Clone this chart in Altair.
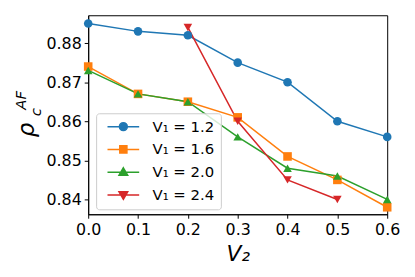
import altair as alt
import pandas as pd

v2 = [0.0, 0.1, 0.2, 0.3, 0.4, 0.5, 0.6]
s12 = [0.885, 0.883, 0.882, 0.875, 0.870, 0.860, 0.856]
s16 = [0.874, 0.867, 0.865, 0.861, 0.851, 0.845, 0.838]
s20 = [0.873, 0.867, 0.865, 0.856, 0.848, 0.846, 0.840]
v2_24 = [0.2, 0.3, 0.4, 0.5]
s24 = [0.884, 0.860, 0.845, 0.840]
labels = ["V₁ = 1.2", "V₁ = 1.6", "V₁ = 2.0", "V₁ = 2.4"]
colors = ["#1f77b4", "#ff7f0e", "#2ca02c", "#d62728"]
shapes = ["circle", "square", "triangle-up", "triangle-down"]

rows = []
for lab, xs_, ys_ in zip(labels, [v2, v2, v2, v2_24], [s12, s16, s20, s24]):
    for x, y in zip(xs_, ys_):
        rows.append({"V2": x, "rho": y, "series": lab})
df = pd.DataFrame(rows)

FONT = "DejaVu Sans"
line_path = "M-4,0L4,0"
legend_paths = [
    line_path + "M-1,0A1,1,0,1,1,1,0A1,1,0,1,1,-1,0Z",
    line_path + "M-0.9,-0.9L0.9,-0.9L0.9,0.9L-0.9,0.9Z",
    line_path + "M0,-1.1L1.1,0.8L-1.1,0.8Z",
    line_path + "M0,1.1L1.1,-0.8L-1.1,-0.8Z",
]

xs = alt.X("V2:Q", scale=alt.Scale(domain=[0, 0.6], nice=False),
           axis=alt.Axis(values=v2, format=".1f", title="V₂", grid=False, labelFlush=False,
                         titleFontStyle="italic", titleFontWeight="normal",
                         titleFontSize=22, titlePadding=7))
ys = alt.Y("rho:Q", scale=alt.Scale(domain=[0.83621, 0.88712], nice=False, zero=False),
           axis=alt.Axis(values=[0.84, 0.85, 0.86, 0.87, 0.88], format=".2f",
                         title=None, grid=False, labelFlush=False))
cs = alt.Scale(domain=labels, range=colors)

lines = alt.Chart(df).mark_line(strokeWidth=1.5).encode(
    x=xs, y=ys,
    color=alt.Color("series:N", scale=cs, legend=None),
)
points = alt.Chart(df).mark_point(filled=True, size=75, opacity=1).encode(
    x=xs, y=ys,
    color=alt.Color("series:N", scale=cs, legend=None),
    shape=alt.Shape("series:N", scale=alt.Scale(domain=labels, range=shapes), legend=None),
)

leg = alt.Legend(
    title=None, orient="none", legendX=8, legendY=99,
    symbolSize=64, symbolStrokeWidth=1.5, symbolOffset=14,
    labelOffset=22, labelFontSize=15, labelFont=FONT,
    rowPadding=7, padding=6,
    fillColor="rgba(255,255,255,0.8)", strokeColor="#cccccc", cornerRadius=3,
)
legend_layer = alt.Chart(df).transform_calculate(ls="datum.series").transform_filter(
    "false").mark_point(size=64, opacity=1).encode(
    x=xs, y=ys,
    fill=alt.Fill("ls:N", scale=alt.Scale(domain=labels, range=colors), legend=leg),
    stroke=alt.Stroke("ls:N", scale=alt.Scale(domain=labels, range=colors), legend=leg),
    shape=alt.Shape("ls:N", scale=alt.Scale(domain=labels, range=legend_paths), legend=leg),
)

t1 = alt.Chart(pd.DataFrame({"t": ["ρ"]})).mark_text(
    angle=270, fontSize=23, fontStyle="italic", font=FONT, align="center", baseline="middle"
).encode(text="t:N", x=alt.value(-62), y=alt.value(116))
t2 = alt.Chart(pd.DataFrame({"t": ["c"]})).mark_text(
    angle=270, fontSize=15, fontStyle="italic", font=FONT, align="center", baseline="middle"
).encode(text="t:N", x=alt.value(-53), y=alt.value(98))
t3 = alt.Chart(pd.DataFrame({"t": ["AF"]})).mark_text(
    angle=270, fontSize=15, fontStyle="italic", font=FONT, align="center", baseline="middle"
).encode(text="t:N", x=alt.value(-68), y=alt.value(86))

chart = alt.layer(lines, points, legend_layer, t1, t2, t3).resolve_scale(
    shape="independent", fill="independent", stroke="independent"
).properties(
    width=302, height=201,
    autosize=alt.AutoSizeParams(type="none"),
    padding={"left": 81, "top": 6, "right": 20, "bottom": 58},
).configure_view(stroke="black", strokeWidth=1).configure_axis(
    labelFont=FONT, titleFont=FONT, labelFontSize=16, labelColor="black",
    domainColor="black", tickColor="black", tickSize=4, domainWidth=1,
    titleColor="black", labelPadding=3,
)

chart.save("out.html", embed_options={"renderer": "svg", "actions": False})
